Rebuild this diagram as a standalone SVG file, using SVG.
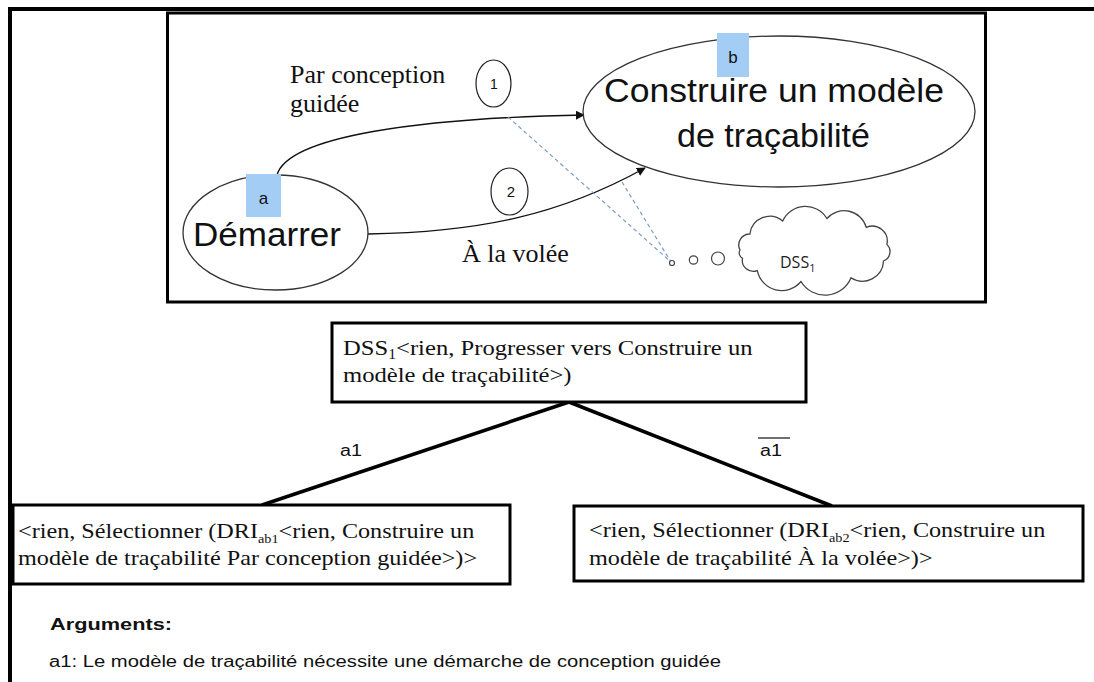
<svg xmlns="http://www.w3.org/2000/svg" width="1094" height="682" viewBox="0 0 1094 682">
<style>
.frame{fill:none;stroke:#000;stroke-width:4}
.box{fill:#fff;stroke:#000;stroke-width:3}
.ell{fill:#fff;stroke:#333;stroke-width:1.3}
.num{fill:#fff;stroke:#222;stroke-width:1.2}
.tag{fill:#A3CDF5}
.sans{font-family:"Liberation Sans",Arial,sans-serif;fill:#111}
.serif{font-family:"Liberation Serif","Times New Roman",serif;fill:#111}
.edge{fill:none;stroke:#111;stroke-width:1.4}
.dash{fill:none;stroke:#7E9DC6;stroke-width:1.2;stroke-dasharray:4 3}
.tree{stroke:#000;stroke-width:3.5}
.bt{font-family:"Liberation Serif","Times New Roman",serif;font-size:22px;fill:#111}
</style>
<defs>
<marker id="arr" viewBox="0 0 10 10" refX="9" refY="5" markerWidth="9" markerHeight="9" markerUnits="userSpaceOnUse" orient="auto">
<path d="M0,0 L10,5 L0,10 z" fill="#111"/>
</marker>
</defs>
<rect width="1094" height="682" fill="#fff"/>
<rect class="frame" x="10" y="9" width="1200" height="800"/>
<rect id="panel" x="167.5" y="13" width="818" height="289" fill="#fff" stroke="#000" stroke-width="3"/>

<g id="connectors">
<path class="edge" d="M277,175 C288,136 420,118 584,115" marker-end="url(#arr)"/>
<path class="edge" d="M368,234 C480,232 560,215 645,168" marker-end="url(#arr)"/>
<line class="dash" x1="508" y1="117" x2="671" y2="262"/>
<line class="dash" x1="622" y1="182" x2="671" y2="262"/>
<line class="tree" x1="569" y1="402" x2="262" y2="505"/>
<line class="tree" x1="569" y1="402" x2="832" y2="506"/>
</g>

<g id="node-demarrer">
<ellipse class="ell" cx="275.5" cy="232.5" rx="92.5" ry="57.5"/>
<rect class="tag" x="246" y="174" width="35" height="43"/>
<text class="sans" x="263.5" y="204" font-size="17" text-anchor="middle">a</text>
<text class="sans" x="193" y="246" font-size="34" textLength="148" lengthAdjust="spacingAndGlyphs">Démarrer</text>
</g>

<g id="node-construire">
<ellipse class="ell" cx="779" cy="111.5" rx="196" ry="75.5"/>
<rect class="tag" x="717" y="33" width="32" height="44"/>
<text class="sans" x="733" y="63" font-size="17" text-anchor="middle">b</text>
<text class="sans" x="604" y="102" font-size="34" textLength="340" lengthAdjust="spacingAndGlyphs">Construire un modèle</text>
<text class="sans" x="677" y="147" font-size="34" textLength="193" lengthAdjust="spacingAndGlyphs">de traçabilité</text>
</g>

<g id="label-1">
<text class="serif" x="290" y="83" font-size="26">Par conception</text>
<text class="serif" x="290" y="112" font-size="26">guidée</text>
<ellipse class="num" cx="493.5" cy="83.5" rx="17.5" ry="23.5"/>
<text class="sans" x="494" y="89" font-size="14" text-anchor="middle">1</text>
</g>

<g id="label-2">
<ellipse class="num" cx="509.5" cy="191.5" rx="18.5" ry="23.5"/>
<text class="sans" x="511" y="197" font-size="15" text-anchor="middle">2</text>
<text class="serif" x="462" y="262" font-size="26">À la volée</text>
</g>

<g id="node-dss-cloud">
<circle cx="672" cy="263" r="2.5" fill="#fff" stroke="#444" stroke-width="1.2"/>
<circle cx="693.5" cy="260" r="4.2" fill="#fff" stroke="#444" stroke-width="1.2"/>
<circle cx="718" cy="258.5" r="6.5" fill="#fff" stroke="#444" stroke-width="1.2"/>
<path d="M740,250 A11,11 0 0 1 749.9,234 A20,20 0 0 1 782.7,221 A25,25 0 0 1 826.9,218.5 A23,23 0 0 1 866.3,227.4 A15,15 0 0 1 886.9,244.4 A10,10 0 0 1 883.5,261 A21,21 0 0 1 851,277.7 A28,28 0 0 1 801,281.5 A25,25 0 0 1 757.3,270.6 A11,11 0 0 1 742.5,258.3 A6,6 0 0 1 740,250 Z" fill="#fff" stroke="#444" stroke-width="1.3"/>
<text x="780" y="268" font-family="'Open Sans','Liberation Sans',sans-serif" font-size="16" fill="#222">DSS<tspan font-size="11" dy="4">1</tspan></text>
</g>

<g id="node-dss1">
<rect class="box" x="332" y="323" width="474" height="79"/>
<text class="bt" transform="translate(343,355) scale(1.12,1)">DSS<tspan font-size="14" dy="4">1</tspan><tspan dy="-4">&lt;rien, Progresser vers Construire un</tspan></text>
<text class="bt" transform="translate(343,382) scale(1.12,1)">modèle de traçabilité&gt;)</text>
</g>

<g id="edge-labels">
<text class="sans" x="340" y="456" font-size="16" textLength="22" lengthAdjust="spacingAndGlyphs">a1</text>
<text class="sans" x="760" y="456" font-size="16" textLength="22" lengthAdjust="spacingAndGlyphs">a1</text>
<line x1="758" y1="438" x2="790" y2="438" stroke="#111" stroke-width="1.2"/>
</g>

<g id="node-dri-ab1">
<rect class="box" x="13" y="505" width="497" height="79"/>
<text class="bt" transform="translate(18,538) scale(1.1,1)">&lt;rien, Sélectionner (DRI<tspan font-size="13" dy="5">ab1</tspan><tspan dy="-5">&lt;rien, Construire un</tspan></text>
<text class="bt" transform="translate(18,565) scale(1.1,1)">modèle de traçabilité Par conception guidée&gt;)&gt;</text>
</g>

<g id="node-dri-ab2">
<rect class="box" x="574" y="506" width="509" height="75"/>
<text class="bt" transform="translate(589,537) scale(1.1,1)">&lt;rien, Sélectionner (DRI<tspan font-size="13" dy="5">ab2</tspan><tspan dy="-5">&lt;rien, Construire un</tspan></text>
<text class="bt" transform="translate(589,565) scale(1.1,1)">modèle de traçabilité À la volée&gt;)&gt;</text>
</g>

<g id="arguments">
<text class="sans" x="50" y="630" font-size="17" font-weight="bold" textLength="122" lengthAdjust="spacingAndGlyphs">Arguments:</text>
<text class="sans" x="49" y="667" font-size="16" textLength="672" lengthAdjust="spacingAndGlyphs">a1: Le modèle de traçabilité  nécessite une démarche de conception guidée</text>
</g>
</svg>
